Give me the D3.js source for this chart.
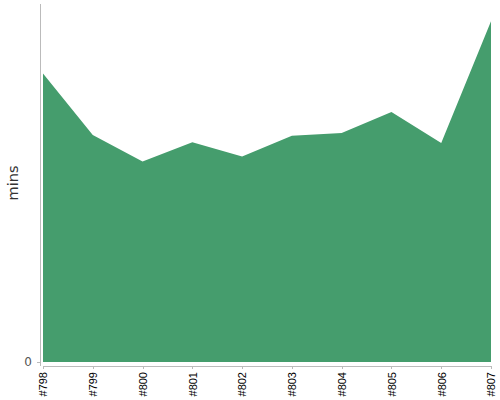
<!DOCTYPE html>
<html><head><meta charset="utf-8">
<script src="https://cdn.jsdelivr.net/npm/d3@7"></script>
<style>
body{margin:0;background:#fff;}
svg{display:block;font-family:"DejaVu Sans",sans-serif;}
.axis path,.axis line{stroke:#bbb;fill:none;shape-rendering:crispEdges;}
</style></head><body>
<svg id="c" width="500" height="400"></svg>
<script>
const categories = ["#798","#799","#800","#801","#802","#803","#804","#805","#806","#807"];
const values = [40.3, 31.7, 28.0, 30.7, 28.7, 31.6, 32.0, 34.9, 30.6, 47.6];
const yTicks = [0];
const yLabel = "mins";

const svg = d3.select("#c");
const x = d3.scalePoint().domain(categories).range([43, 491]);
const y = d3.scaleLinear().domain([0, 50]).range([362, 4]);

const data = categories.map((c,i)=>({c, v: values[i]}));
const area = d3.area().x(d=>x(d.c)).y0(y(0)).y1(d=>y(d.v));
svg.append("path").datum(data).attr("d", area).attr("fill", "#459d6d");

// y axis
const ya = svg.append("g").attr("class","axis").attr("transform","translate(40,0)")
  .call(d3.axisLeft(y).tickValues(yTicks).tickSizeOuter(0).tickSize(3).tickPadding(5));
ya.select(".domain").attr("d","M0.5,4V366");
ya.selectAll("text").attr("fill","#555").attr("font-size","12px").attr("font-family","DejaVu Sans, sans-serif");

// x axis
const xa = svg.append("g").attr("class","axis").attr("transform","translate(0,366)")
  .call(d3.axisBottom(x).tickSizeOuter(0).tickSize(3));
xa.selectAll("text")
  .attr("transform","rotate(-90)")
  .attr("x",-6).attr("y",0).attr("dy","0.35em")
  .attr("text-anchor","end")
  .attr("fill","#000").attr("font-size","11px").attr("font-family","Liberation Sans, Arial, sans-serif");

svg.append("text")
  .attr("transform","translate(18,183) rotate(-90)")
  .attr("text-anchor","middle")
  .attr("fill","#333").attr("font-size","14.5px")
  .text(yLabel);
</script>
</body></html>
